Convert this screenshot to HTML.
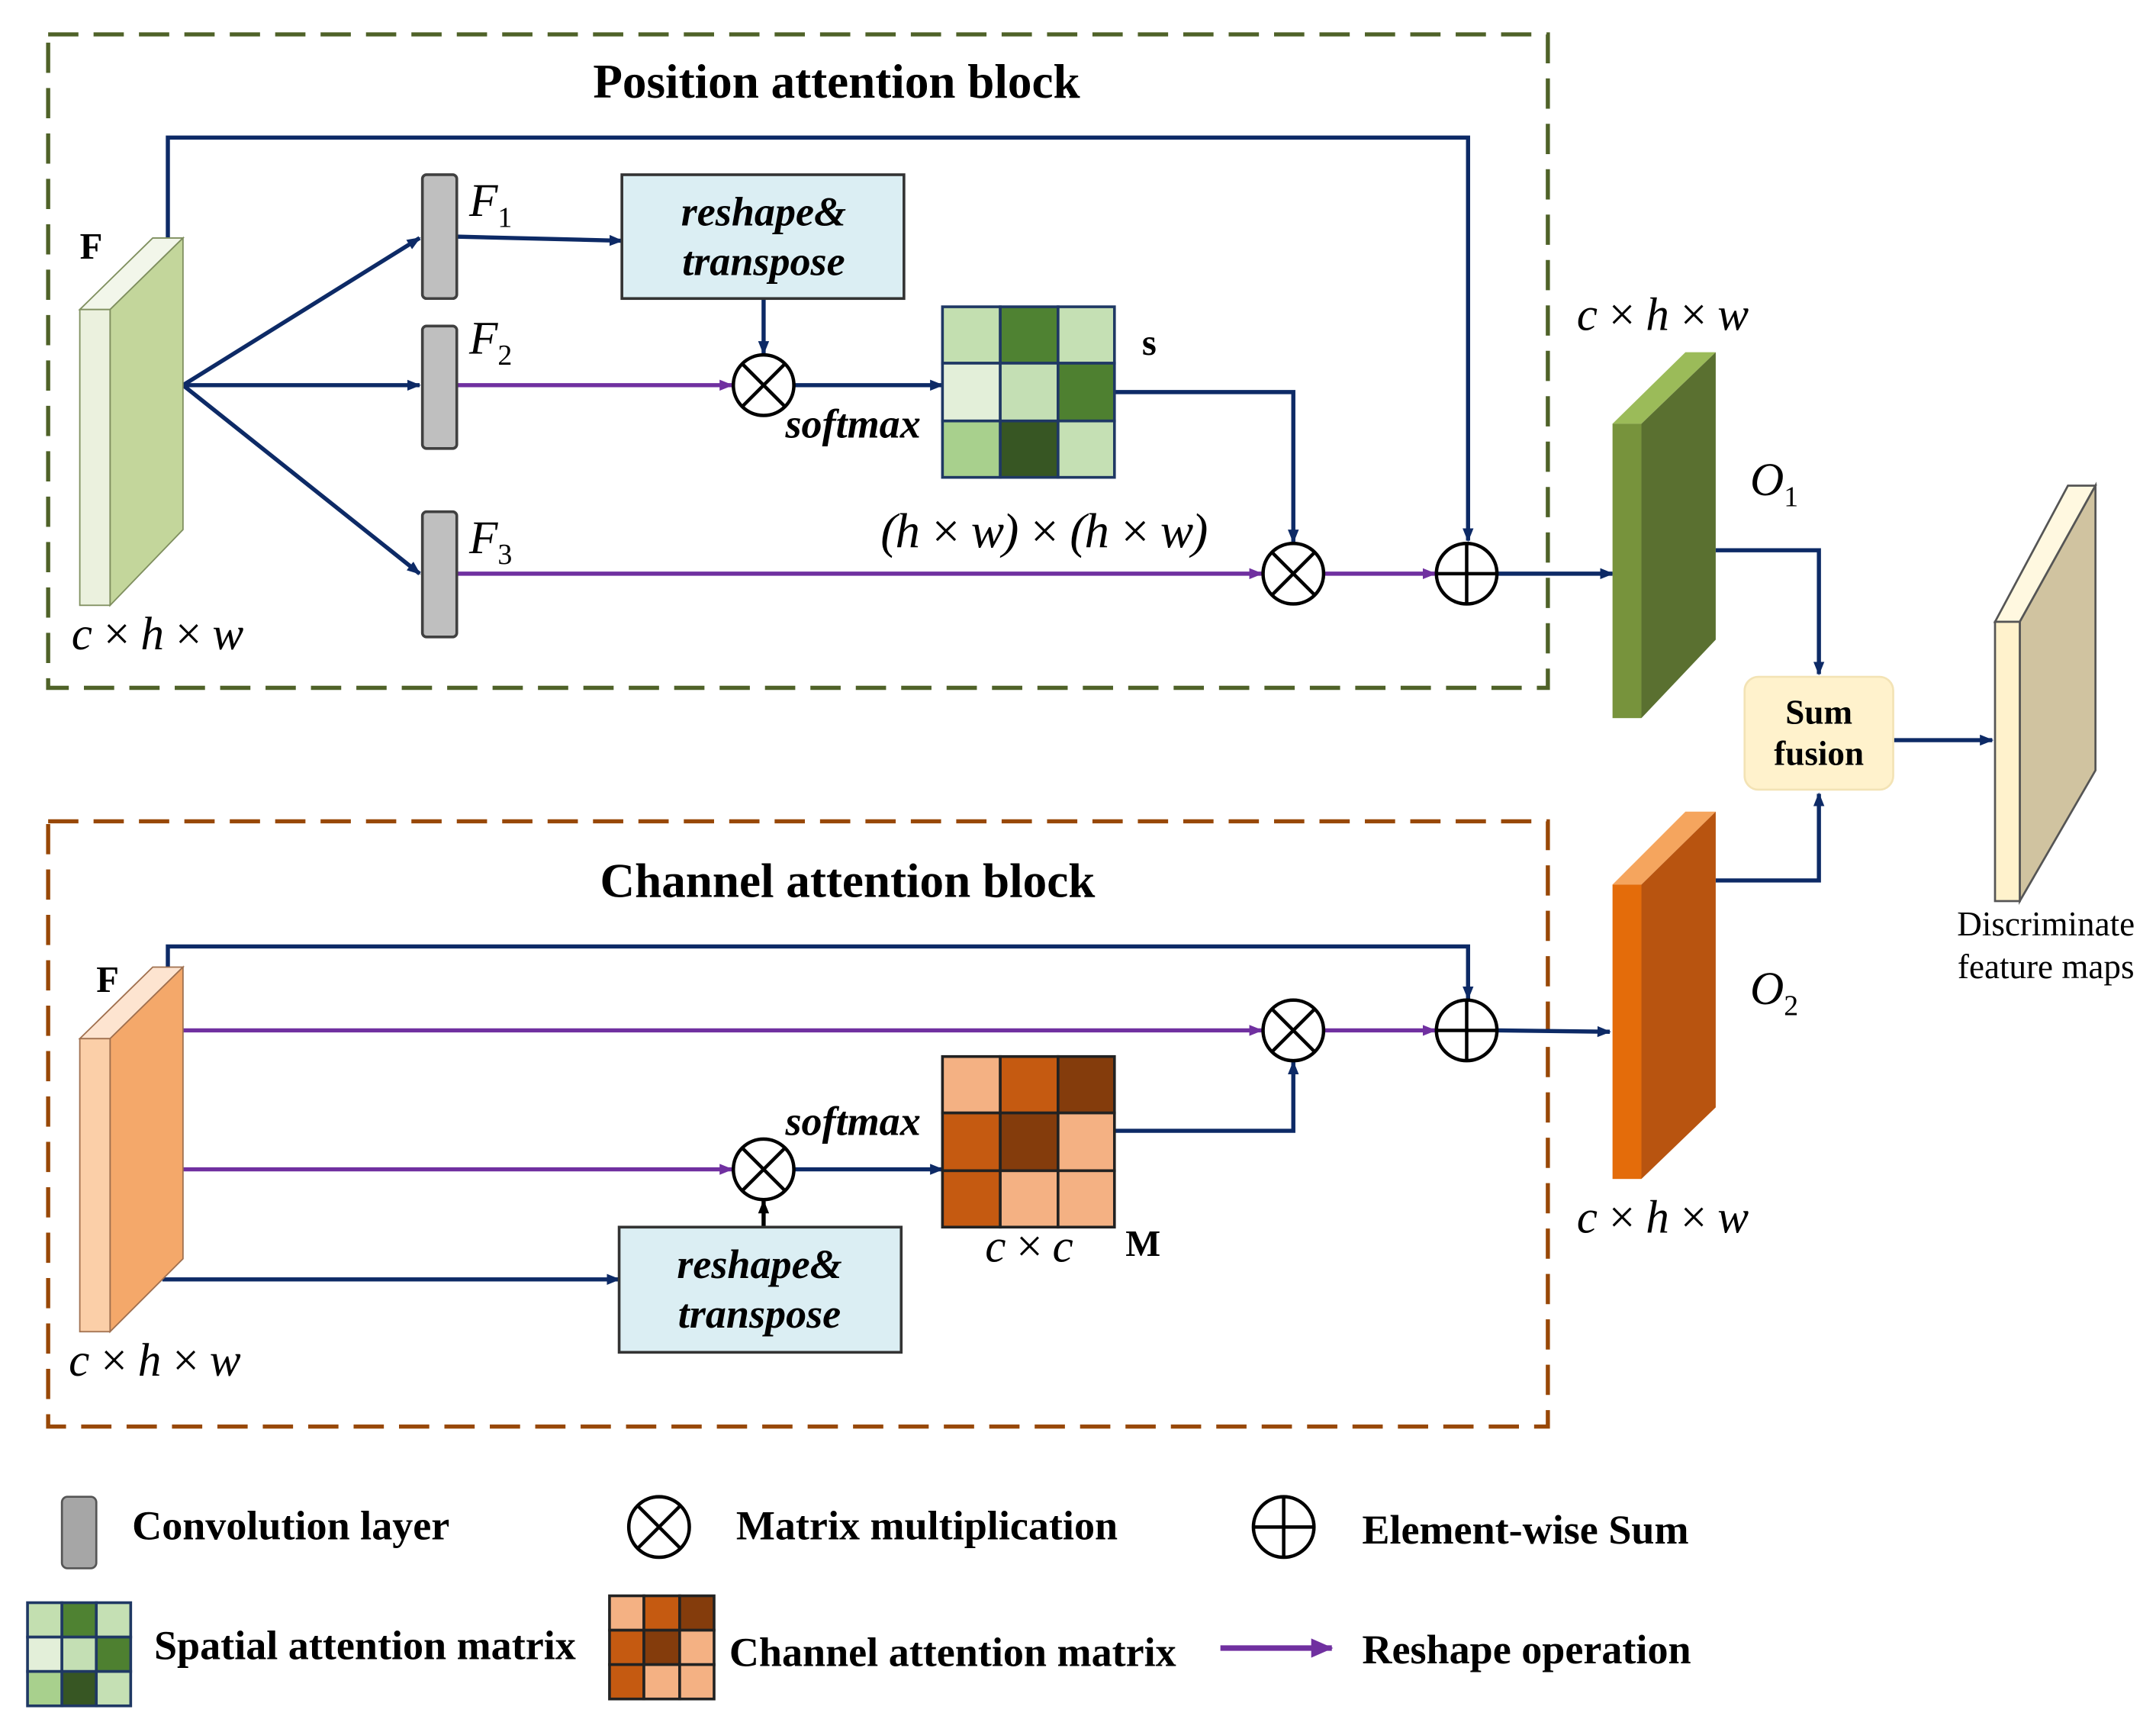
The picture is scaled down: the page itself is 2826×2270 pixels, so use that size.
<!DOCTYPE html>
<html><head><meta charset="utf-8"><style>html,body{margin:0;padding:0;background:#fff}svg{display:block}svg text{font-family:"Liberation Serif","Times New Roman",Times,serif}</style></head>
<body>
<svg width="2826" height="2270" viewBox="0 0 1567 1259" preserveAspectRatio="none" xmlns="http://www.w3.org/2000/svg">
<defs>
<marker id="an" markerWidth="10" markerHeight="8" refX="9" refY="4" orient="auto" markerUnits="userSpaceOnUse"><path d="M0,0 L10,4 L0,8 Z" fill="#0d2a66"/></marker>
<marker id="ap" markerWidth="10" markerHeight="8" refX="9" refY="4" orient="auto" markerUnits="userSpaceOnUse"><path d="M0,0 L10,4 L0,8 Z" fill="#7030a0"/></marker>
<marker id="ak" markerWidth="10" markerHeight="8" refX="9" refY="4" orient="auto" markerUnits="userSpaceOnUse"><path d="M0,0 L10,4 L0,8 Z" fill="#000"/></marker>
<marker id="apl" markerWidth="16" markerHeight="14" refX="15" refY="7" orient="auto" markerUnits="userSpaceOnUse"><path d="M0,0 L16,7 L0,14 Z" fill="#7030a0"/></marker>
<g id="otimes"><circle r="22" fill="#fff" stroke="#000" stroke-width="2.5"/><path d="M-15.5,-15.5 L15.5,15.5 M15.5,-15.5 L-15.5,15.5" stroke="#000" stroke-width="2.5"/></g>
<g id="oplus"><circle r="22" fill="#fff" stroke="#000" stroke-width="2.5"/><path d="M-22,0 L22,0 M0,-22 L0,22" stroke="#000" stroke-width="2.5"/></g>
</defs>

<rect x="35" y="25" width="1090" height="475" fill="none" stroke="#4f6228" stroke-width="3" stroke-dasharray="22 11"/>
<rect x="35" y="597" width="1090" height="440" fill="none" stroke="#984807" stroke-width="3" stroke-dasharray="22 11"/>
<text x="608" y="71" font-size="35" font-weight="bold" text-anchor="middle">Position attention block</text>
<text x="616" y="652" font-size="35" font-weight="bold" text-anchor="middle">Channel attention block</text>

<g stroke-width="3" fill="none">
<path d="M122,173 V100 H1067 V393" stroke="#0d2a66" marker-end="url(#an)"/>
<path d="M133,280 L305,173" stroke="#0d2a66" marker-end="url(#an)"/>
<path d="M133,280 L305,280" stroke="#0d2a66" marker-end="url(#an)"/>
<path d="M133,280 L305,417" stroke="#0d2a66" marker-end="url(#an)"/>
<path d="M332,172 L452,175" stroke="#0d2a66" marker-end="url(#an)"/>
<path d="M555,217 V257" stroke="#0d2a66" marker-end="url(#an)"/>
<path d="M332,280 H532" stroke="#7030a0" marker-end="url(#ap)"/>
<path d="M577,280 H685" stroke="#0d2a66" marker-end="url(#an)"/>
<path d="M810,285 H940 V394" stroke="#0d2a66" marker-end="url(#an)"/>
<path d="M332,417 H917" stroke="#7030a0" marker-end="url(#ap)"/>
<path d="M962,417 H1043" stroke="#7030a0" marker-end="url(#ap)"/>
<path d="M1088,417 H1172" stroke="#0d2a66" marker-end="url(#an)"/>
<path d="M1247,400 H1322 V490" stroke="#0d2a66" marker-end="url(#an)"/>
<path d="M1376,538 H1448" stroke="#0d2a66" marker-end="url(#an)"/>
<path d="M1247,640 H1322 V577" stroke="#0d2a66" marker-end="url(#an)"/>
<path d="M122,703 V688 H1067 V726" stroke="#0d2a66" marker-end="url(#an)"/>
<path d="M133,749 H917" stroke="#7030a0" marker-end="url(#ap)"/>
<path d="M962,749 H1043" stroke="#7030a0" marker-end="url(#ap)"/>
<path d="M1088,749 L1170,750" stroke="#0d2a66" marker-end="url(#an)"/>
<path d="M133,850 H532" stroke="#7030a0" marker-end="url(#ap)"/>
<path d="M577,850 H685" stroke="#0d2a66" marker-end="url(#an)"/>
<path d="M118,930 H450" stroke="#0d2a66" marker-end="url(#an)"/>
<path d="M555,892 V873" stroke="#000" marker-end="url(#ak)"/>
<path d="M810,822 H940 V772" stroke="#0d2a66" marker-end="url(#an)"/>
<path d="M887,1198 H968" stroke="#7030a0" stroke-width="4" marker-end="url(#apl)"/>
</g>

<polygon points="58,225 111,173 133,173 80,225" fill="#f2f6ea" stroke="#7f8f5f" stroke-width="1"/>
<polygon points="80,225 133,173 133,385 80,440" fill="#c3d69b" stroke="#7f8f5f" stroke-width="1"/>
<rect x="58" y="225" width="22" height="215" fill="#ebf1de" stroke="#7f8f5f" stroke-width="1"/>
<text x="58" y="188" font-size="27" font-weight="bold">F</text>
<text x="52" y="472" font-size="34" font-style="italic" textLength="125">c × h × w</text>

<rect x="307" y="127" width="25" height="90" rx="3" fill="#bfbfbf" stroke="#404040" stroke-width="2"/>
<rect x="307" y="237" width="25" height="89" rx="3" fill="#bfbfbf" stroke="#404040" stroke-width="2"/>
<rect x="307" y="372" width="25" height="91" rx="3" fill="#bfbfbf" stroke="#404040" stroke-width="2"/>
<g font-size="34" font-style="italic">
<text x="341" y="157">F<tspan font-size="21" dy="8" font-style="normal">1</tspan></text>
<text x="341" y="257">F<tspan font-size="21" dy="8" font-style="normal">2</tspan></text>
<text x="341" y="402">F<tspan font-size="21" dy="8" font-style="normal">3</tspan></text>
</g>

<rect x="452" y="127" width="205" height="90" fill="#dbeef3" stroke="#333" stroke-width="2"/>
<text x="555" y="164" font-size="30" font-style="italic" font-weight="bold" text-anchor="middle">reshape&amp;</text>
<text x="555" y="200" font-size="30" font-style="italic" font-weight="bold" text-anchor="middle">transpose</text>
<rect x="450" y="892" width="205" height="91" fill="#dbeef3" stroke="#333" stroke-width="2"/>
<text x="552" y="929" font-size="30" font-style="italic" font-weight="bold" text-anchor="middle">reshape&amp;</text>
<text x="552" y="965" font-size="30" font-style="italic" font-weight="bold" text-anchor="middle">transpose</text>

<use href="#otimes" x="555" y="280"/>
<use href="#otimes" x="940" y="417"/>
<use href="#oplus" x="1066" y="417"/>
<use href="#otimes" x="940" y="749"/>
<use href="#oplus" x="1066" y="749"/>
<use href="#otimes" x="555" y="850"/>

<text x="620" y="318" font-size="30" font-style="italic" font-weight="bold" text-anchor="middle">softmax</text>
<text x="620" y="825" font-size="30" font-style="italic" font-weight="bold" text-anchor="middle">softmax</text>

<g stroke="#1f3864" stroke-width="2">
<rect x="685" y="223" width="42" height="41" fill="#c3dfb0"/><rect x="727" y="223" width="42" height="41" fill="#4f8232"/><rect x="769" y="223" width="41" height="41" fill="#c5e0b4"/>
<rect x="685" y="264" width="42" height="42" fill="#e3efd9"/><rect x="727" y="264" width="42" height="42" fill="#c4dfb4"/><rect x="769" y="264" width="41" height="42" fill="#4e8030"/>
<rect x="685" y="306" width="42" height="41" fill="#a8d08d"/><rect x="727" y="306" width="42" height="41" fill="#375623"/><rect x="769" y="306" width="41" height="41" fill="#c5e0b4"/>
</g>
<text x="830" y="258" font-size="27" font-weight="bold">s</text>
<text x="640" y="398" font-size="36" font-style="italic" textLength="238">(h × w) × (h × w)</text>

<g stroke="#222" stroke-width="2">
<rect x="685" y="768" width="42" height="41" fill="#f4b183"/><rect x="727" y="768" width="42" height="41" fill="#c55a11"/><rect x="769" y="768" width="41" height="41" fill="#843c0c"/>
<rect x="685" y="809" width="42" height="42" fill="#c55a11"/><rect x="727" y="809" width="42" height="42" fill="#843c0c"/><rect x="769" y="809" width="41" height="42" fill="#f4b183"/>
<rect x="685" y="851" width="42" height="41" fill="#c55a11"/><rect x="727" y="851" width="42" height="41" fill="#f4b183"/><rect x="769" y="851" width="41" height="41" fill="#f4b183"/>
</g>
<text x="716" y="917" font-size="34" font-style="italic" textLength="64">c × c</text>
<text x="818" y="913" font-size="27" font-weight="bold">M</text>

<polygon points="58,755 111,703 133,703 80,755" fill="#fde4d0" stroke="#a0704f" stroke-width="1"/>
<polygon points="80,755 133,703 133,915 80,968" fill="#f4a86a" stroke="#a0704f" stroke-width="1"/>
<rect x="58" y="755" width="22" height="213" fill="#fbcfa8" stroke="#a0704f" stroke-width="1"/>
<text x="70" y="721" font-size="27" font-weight="bold">F</text>
<text x="50" y="1000" font-size="34" font-style="italic" textLength="125">c × h × w</text>

<polygon points="1172,308 1225,256 1247,256 1193,308" fill="#9bbb59"/>
<polygon points="1193,308 1247,256 1247,465 1193,522" fill="#5a7030"/>
<rect x="1172" y="308" width="21" height="214" fill="#77933c"/>
<text x="1146" y="240" font-size="34" font-style="italic" textLength="125">c × h × w</text>
<text x="1272" y="360" font-size="34" font-style="italic">O<tspan font-size="21" dy="8" font-style="normal">1</tspan></text>

<polygon points="1172,643 1225,590 1247,590 1193,643" fill="#f5a55e"/>
<polygon points="1193,643 1247,590 1247,805 1193,857" fill="#b85410"/>
<rect x="1172" y="643" width="21" height="214" fill="#e46c0a"/>
<text x="1272" y="730" font-size="34" font-style="italic">O<tspan font-size="21" dy="8" font-style="normal">2</tspan></text>
<text x="1146" y="896" font-size="34" font-style="italic" textLength="125">c × h × w</text>

<rect x="1268" y="492" width="108" height="82" rx="10" fill="#fff2cc" stroke="#f3e3b5" stroke-width="1.5"/>
<text x="1322" y="526" font-size="25" font-weight="bold" text-anchor="middle">Sum</text>
<text x="1322" y="556" font-size="25" font-weight="bold" text-anchor="middle">fusion</text>

<polygon points="1450,452 1503,353 1523,353 1468,452" fill="#fff8e0" stroke="#555" stroke-width="1.5"/>
<polygon points="1468,452 1523,353 1523,560 1468,655" fill="#d0c3a0" stroke="#555" stroke-width="1.5"/>
<rect x="1450" y="452" width="18" height="203" fill="#fff2cc" stroke="#555" stroke-width="1.5"/>
<text x="1487" y="680" font-size="25" text-anchor="middle">Discriminate</text>
<text x="1487" y="711" font-size="25" text-anchor="middle">feature maps</text>

<rect x="45" y="1088" width="25" height="52" rx="4" fill="#a6a6a6" stroke="#555" stroke-width="1.5"/>
<text x="96" y="1119" font-size="30" font-weight="bold">Convolution layer</text>
<use href="#otimes" x="479" y="1110"/>
<text x="535" y="1119" font-size="30" font-weight="bold">Matrix multiplication</text>
<use href="#oplus" x="933" y="1110"/>
<text x="990" y="1122" font-size="30" font-weight="bold">Element-wise Sum</text>
<g stroke="#1f3864" stroke-width="2">
<rect x="20" y="1165" width="25" height="25" fill="#c3dfb0"/><rect x="45" y="1165" width="25" height="25" fill="#4f8232"/><rect x="70" y="1165" width="25" height="25" fill="#c5e0b4"/>
<rect x="20" y="1190" width="25" height="25" fill="#e3efd9"/><rect x="45" y="1190" width="25" height="25" fill="#c4dfb4"/><rect x="70" y="1190" width="25" height="25" fill="#4e8030"/>
<rect x="20" y="1215" width="25" height="25" fill="#a8d08d"/><rect x="45" y="1215" width="25" height="25" fill="#375623"/><rect x="70" y="1215" width="25" height="25" fill="#c5e0b4"/>
</g>
<text x="112" y="1206" font-size="30" font-weight="bold">Spatial attention matrix</text>
<g stroke="#222" stroke-width="2">
<rect x="443" y="1160" width="25" height="25" fill="#f4b183"/><rect x="468" y="1160" width="26" height="25" fill="#c55a11"/><rect x="494" y="1160" width="25" height="25" fill="#843c0c"/>
<rect x="443" y="1185" width="25" height="25" fill="#c55a11"/><rect x="468" y="1185" width="26" height="25" fill="#843c0c"/><rect x="494" y="1185" width="25" height="25" fill="#f4b183"/>
<rect x="443" y="1210" width="25" height="25" fill="#c55a11"/><rect x="468" y="1210" width="26" height="25" fill="#f4b183"/><rect x="494" y="1210" width="25" height="25" fill="#f4b183"/>
</g>
<text x="530" y="1211" font-size="30" font-weight="bold">Channel attention matrix</text>
<text x="990" y="1209" font-size="30" font-weight="bold">Reshape operation</text>
</svg>
</body></html>
